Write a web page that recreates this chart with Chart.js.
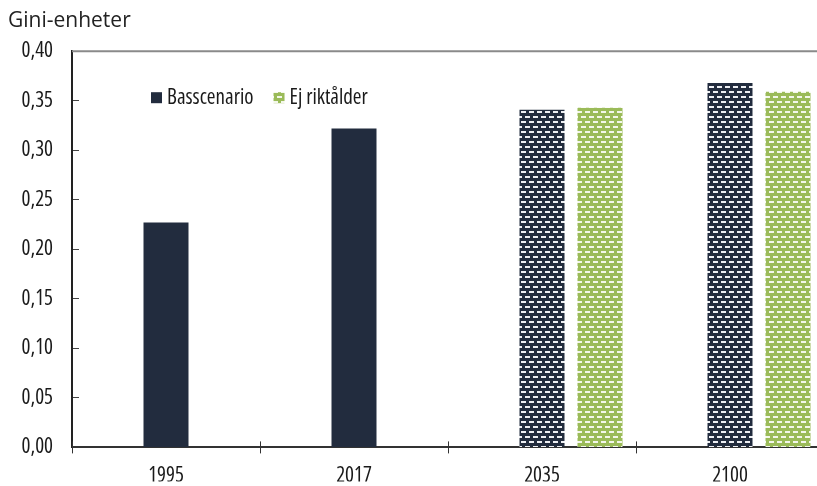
<!DOCTYPE html>
<html>
<head>
<meta charset="utf-8">
<script src="https://cdn.jsdelivr.net/npm/chart.js@4.4.1/dist/chart.umd.min.js"></script>
<style>
  html, body { margin: 0; padding: 0; background: #fff; overflow: hidden; }
  #wrap { width: 832px; height: 486px; }
</style>
</head>
<body>
<div id="wrap"><canvas id="chart" width="832" height="486"></canvas></div>
<script>
// Data
const categories = ["1995", "2017", "2035", "2100"];
const basscenario = [0.227, 0.322, 0.341, 0.368];
const ejRiktalder = [null, null, 0.343, 0.359];
const yTickLabels = ["0,00", "0,05", "0,10", "0,15", "0,20", "0,25", "0,30", "0,35", "0,40"];
const unitLabel = "Gini-enheter";
const seriesNames = ["Basscenario", "Ej riktålder"];

const DARK = "#222c3e";
const GREEN = "#9bbb59";
const FAMILY = '"Open Sans", sans-serif';
const COND = "500 condensed"; // condensed width of Open Sans, close to the original narrow face
const LABEL_SIZE = 21;

// small brick-like dash pattern used for the projected bars
function makePattern(bg, fg) {
  const c = document.createElement("canvas");
  c.width = 8;
  c.height = 10;
  const g = c.getContext("2d");
  g.fillStyle = bg;
  g.fillRect(0, 0, 8, 10);
  g.fillStyle = fg;
  g.fillRect(1, 1, 5, 2);
  g.fillRect(5, 6, 3, 2);
  g.fillRect(0, 6, 2, 2);
  return g.createPattern(c, "repeat");
}

const darkPattern = makePattern(DARK, "#eef0f4");
const greenPattern = makePattern(GREEN, "#f3f7ea");

// legend inside the plot, top border and x tick marks that cross the axis
const extras = {
  id: "extras",
  afterDraw(chart) {
    const { ctx, chartArea: a, scales: { x } } = chart;
    ctx.save();

    ctx.strokeStyle = "#8a8a8a";
    ctx.lineWidth = 2;
    ctx.beginPath();
    ctx.moveTo(a.left, a.top);
    ctx.lineTo(a.right, a.top);
    ctx.stroke();

    ctx.strokeStyle = "#333";
    ctx.lineWidth = 1;
    ctx.beginPath();
    for (let i = 0; i <= categories.length; i++) {
      const px = Math.round(x.getPixelForValue(i - 0.5)) + 0.5;
      ctx.moveTo(px, a.bottom - 6);
      ctx.lineTo(px, a.bottom + 6);
    }
    ctx.stroke();

    ctx.font = COND + " " + LABEL_SIZE + "px " + FAMILY;
    ctx.textBaseline = "middle";
    let lx = a.left + 79;
    const ly = a.top + 46;
    chart.data.datasets.filter((d) => d.label).forEach((d) => {
      ctx.fillStyle = d.legendFill;
      ctx.fillRect(lx, ly - 5, 11, 11);
      ctx.fillStyle = "#1a1a1a";
      ctx.fillText(d.label, lx + 16, ly + 1);
      lx += 16 + ctx.measureText(d.label).width + 20;
    });
    ctx.restore();
  },
};

const labelFont = { family: FAMILY, size: LABEL_SIZE, weight: COND };

new Chart(document.getElementById("chart"), {
  type: "bar",
  data: {
    labels: categories,
    datasets: [
      // empty slot so the Basscenario bar sits at the centre of each category
      { label: "", data: categories.map(() => null) },
      {
        label: seriesNames[0],
        data: basscenario,
        backgroundColor: [DARK, DARK, darkPattern, darkPattern],
        legendFill: DARK,
      },
      {
        label: seriesNames[1],
        data: ejRiktalder,
        backgroundColor: greenPattern,
        legendFill: greenPattern,
      },
    ],
  },
  options: {
    responsive: false,
    animation: false,
    layout: { padding: { left: 8, right: 8, top: 0, bottom: 0 } },
    datasets: {
      bar: { categoryPercentage: 0.9255, barPercentage: 0.776, borderWidth: 0 },
    },
    plugins: {
      legend: { display: false },
      tooltip: { enabled: false },
      title: {
        display: true,
        text: unitLabel,
        align: "start",
        color: "#222",
        font: { family: FAMILY, size: 21, weight: "normal" },
        padding: { top: 8, bottom: 18 },
      },
    },
    scales: {
      x: {
        grid: { display: false },
        border: { color: "#333", width: 2 },
        ticks: { padding: 8, color: "#1a1a1a", font: labelFont },
        afterFit(scale) {
          scale.height = 34;
        },
      },
      y: {
        min: 0,
        max: 0.4,
        grid: { drawOnChartArea: false, tickLength: -7, color: "#444", lineWidth: 1 },
        border: { color: "#222", width: 2 },
        ticks: {
          stepSize: 0.05,
          padding: 26,
          color: "#1a1a1a",
          font: labelFont,
          callback: (v, i) => yTickLabels[i],
        },
        afterFit(scale) {
          scale.width = 64;
        },
      },
    },
  },
  plugins: [extras],
});
</script>
</body>
</html>
